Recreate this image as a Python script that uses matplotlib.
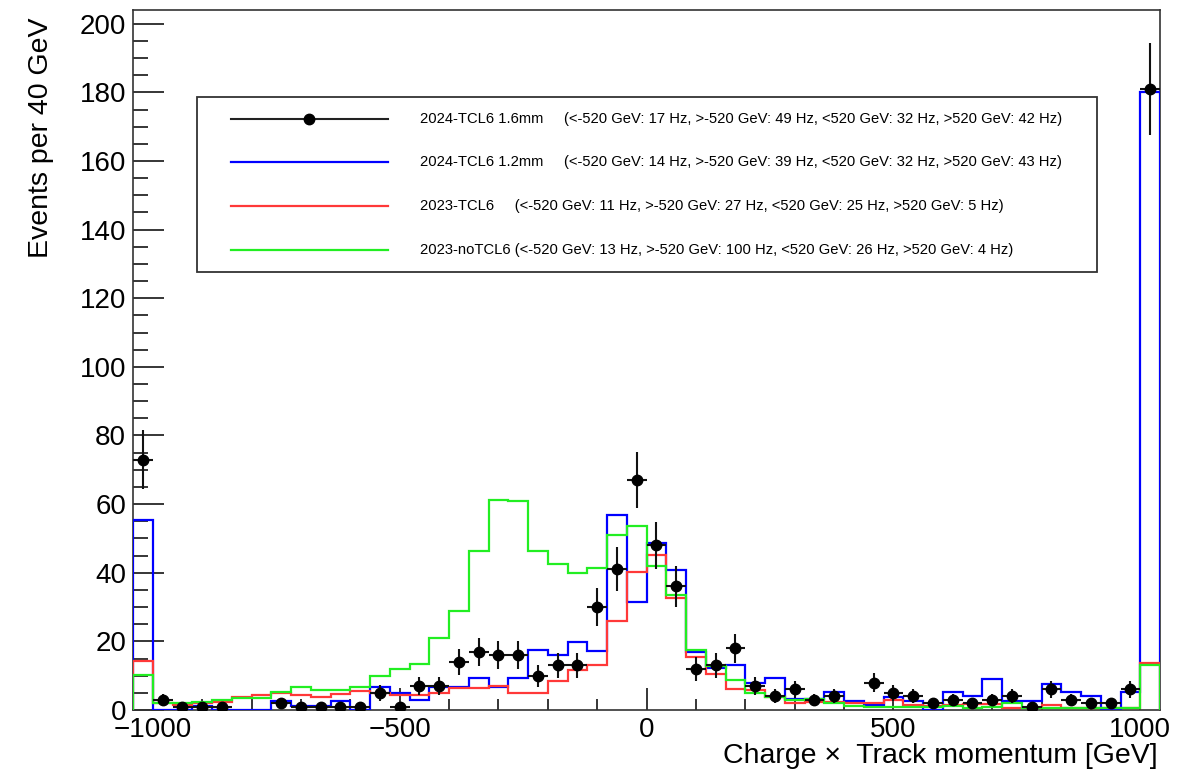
import numpy as np
import matplotlib.pyplot as plt
from matplotlib.patches import Rectangle
from matplotlib.ticker import MultipleLocator

plt.rcParams['font.family'] = ['Liberation Sans', 'DejaVu Sans']

# 52 bins of 40 GeV between -1040 and 1040 GeV
bin_lo, bin_hi, bin_w = -1040, 1040, 40

# 2024-TCL6 1.6mm (data points, Poisson errors)
data_2024_16 = [73, 3, 1, 1, 1, 0, 0, 2, 1, 1, 1, 1, 5, 1, 7, 7, 14, 17, 16, 16,
                10, 13, 13, 30, 41, 67, 48, 36, 12, 13, 18, 7, 4, 6, 3, 4, 0, 8,
                5, 4, 2, 3, 2, 3, 4, 1, 6, 3, 2, 2, 6, 181]
# 2024-TCL6 1.2mm
hist_2024_12 = [55.5, 0, 0, 1.2, 0, 0, 0, 2.6, 1.2, 1.2, 2.6, 0, 6.8, 5.1, 2.9,
                6.8, 6.8, 9.2, 6.8, 9.2, 17.5, 16.0, 19.9, 17.3, 56.7, 31.6, 48.8,
                40.8, 17.0, 12.1, 13.1, 7.8, 9.2, 3.1, 3.1, 5.3, 2.7, 1.5, 3.9,
                2.7, 0, 5.3, 4.1, 8.9, 2.7, 2.7, 7.5, 5.2, 4.0, 0.3, 5.2, 180.2]
# 2023-TCL6
hist_2023 = [14.4, 2.1, 1.5, 1.9, 2.4, 3.9, 4.4, 4.9, 4.4, 3.9, 4.7, 5.6, 5.1,
             4.4, 4.4, 5.1, 6.5, 6.5, 7.0, 4.9, 4.9, 8.5, 11.7, 13.1, 25.9, 40.3,
             45.2, 32.6, 15.4, 10.5, 6.0, 5.8, 3.7, 1.9, 2.2, 2.4, 1.9, 1.9, 2.8,
             1.5, 1.2, 1.5, 1.8, 1.8, 0.6, 0.6, 1.4, 0.6, 0.5, 0.5, 0.5, 13.8]
# 2023-noTCL6
hist_2023_no = [10.2, 1.9, 1.9, 2.4, 2.9, 3.4, 3.4, 5.3, 6.8, 5.8, 5.8, 6.8, 10.0,
                11.9, 13.3, 21.1, 28.9, 46.4, 61.2, 60.9, 46.2, 42.6, 39.8, 41.3,
                51.0, 53.5, 42.0, 33.5, 17.5, 12.8, 8.7, 4.9, 3.7, 2.9, 3.2, 2.1,
                1.2, 1.0, 1.0, 1.0, 1.0, 1.2, 0.6, 0.8, 2.1, 0.5, 0.5, 0.5, 0.6,
                0.5, 0.5, 13.1]

legend_labels = [
    "2024-TCL6 1.6mm     (<-520 GeV: 17 Hz, >-520 GeV: 49 Hz, <520 GeV: 32 Hz, >520 GeV: 42 Hz)",
    "2024-TCL6 1.2mm     (<-520 GeV: 14 Hz, >-520 GeV: 39 Hz, <520 GeV: 32 Hz, >520 GeV: 43 Hz)",
    "2023-TCL6     (<-520 GeV: 11 Hz, >-520 GeV: 27 Hz, <520 GeV: 25 Hz, >520 GeV: 5 Hz)",
    "2023-noTCL6 (<-520 GeV: 13 Hz, >-520 GeV: 100 Hz, <520 GeV: 26 Hz, >520 GeV: 4 Hz)",
]

edges = np.arange(bin_lo, bin_hi + bin_w, bin_w)
centers = 0.5 * (edges[:-1] + edges[1:])

fig = plt.figure(figsize=(11.78, 7.74), dpi=100)
ax = fig.add_axes([133 / 1178, 1 - 710 / 774, 1027 / 1178, 700 / 774])

lw = 1.6
ax.stairs(hist_2024_12, edges, color='#0000ff', lw=lw, baseline=0, zorder=3)
ax.stairs(hist_2023, edges, color='#ff3838', lw=lw, baseline=0, zorder=3)
ax.stairs(hist_2023_no, edges, color='#22ee22', lw=lw, baseline=0, zorder=3)

# data points: skip empty bins, like ROOT does
y = np.array(data_2024_16, dtype=float)
keep = y > 0
ax.errorbar(centers[keep], y[keep], yerr=np.sqrt(y[keep]), xerr=bin_w / 2,
            fmt='o', color='black', ecolor='#111111', elinewidth=1.5,
            markersize=7.5, capsize=0, zorder=5)

ax.set_xlim(bin_lo, bin_hi)
ax.set_ylim(0, 204)

# ROOT-style axes: ticks inside, only on the left and bottom
ax.xaxis.set_major_locator(MultipleLocator(500))
ax.xaxis.set_minor_locator(MultipleLocator(100))
ax.yaxis.set_major_locator(MultipleLocator(20))
ax.yaxis.set_minor_locator(MultipleLocator(5))
ax.tick_params(axis='x', which='major', direction='in', length=16, width=1.1,
               labelsize=20, pad=5)
ax.tick_params(axis='x', which='minor', direction='in', length=8, width=1.1)
ax.tick_params(axis='y', which='major', direction='in', length=22, width=1.1,
               labelsize=20, pad=5)
ax.tick_params(axis='y', which='minor', direction='in', length=11, width=1.1)
for s in ax.spines.values():
    s.set_linewidth(1.2)
    s.set_color('#333333')

ax.set_xlabel("Charge \u00d7  Track momentum [GeV]", fontsize=20.5, loc='right')
ax.xaxis.set_label_coords(0.998, -0.047)
ax.set_ylabel("Events per 40 GeV", fontsize=20.5, loc='top')
ax.yaxis.set_label_coords(-0.077, 0.99)

# legend box, drawn by hand in axes coordinates
box = Rectangle((0.0623, 0.6257), 0.8764, 0.25, transform=ax.transAxes,
                facecolor='white', edgecolor='#333333', lw=1.3, zorder=8)
ax.add_patch(box)
row_y = [0.8443, 0.7829, 0.7200, 0.6571]
styles = [dict(color='#222222', lw=1.5), dict(color='#0000ff', lw=lw),
          dict(color='#ff3838', lw=lw), dict(color='#22ee22', lw=lw)]
for i, (yy, label, st) in enumerate(zip(row_y, legend_labels, styles)):
    ax.plot([0.0954, 0.2483], [yy, yy], transform=ax.transAxes, zorder=9, **st)
    if i == 0:
        ax.plot([0.1718], [yy], 'o', color='black', markersize=7.5,
                transform=ax.transAxes, zorder=10)
    ax.text(0.2795, yy, label, transform=ax.transAxes, fontsize=10.6,
            va='center', ha='left', zorder=10)

fig.savefig('out.png', dpi=100)
